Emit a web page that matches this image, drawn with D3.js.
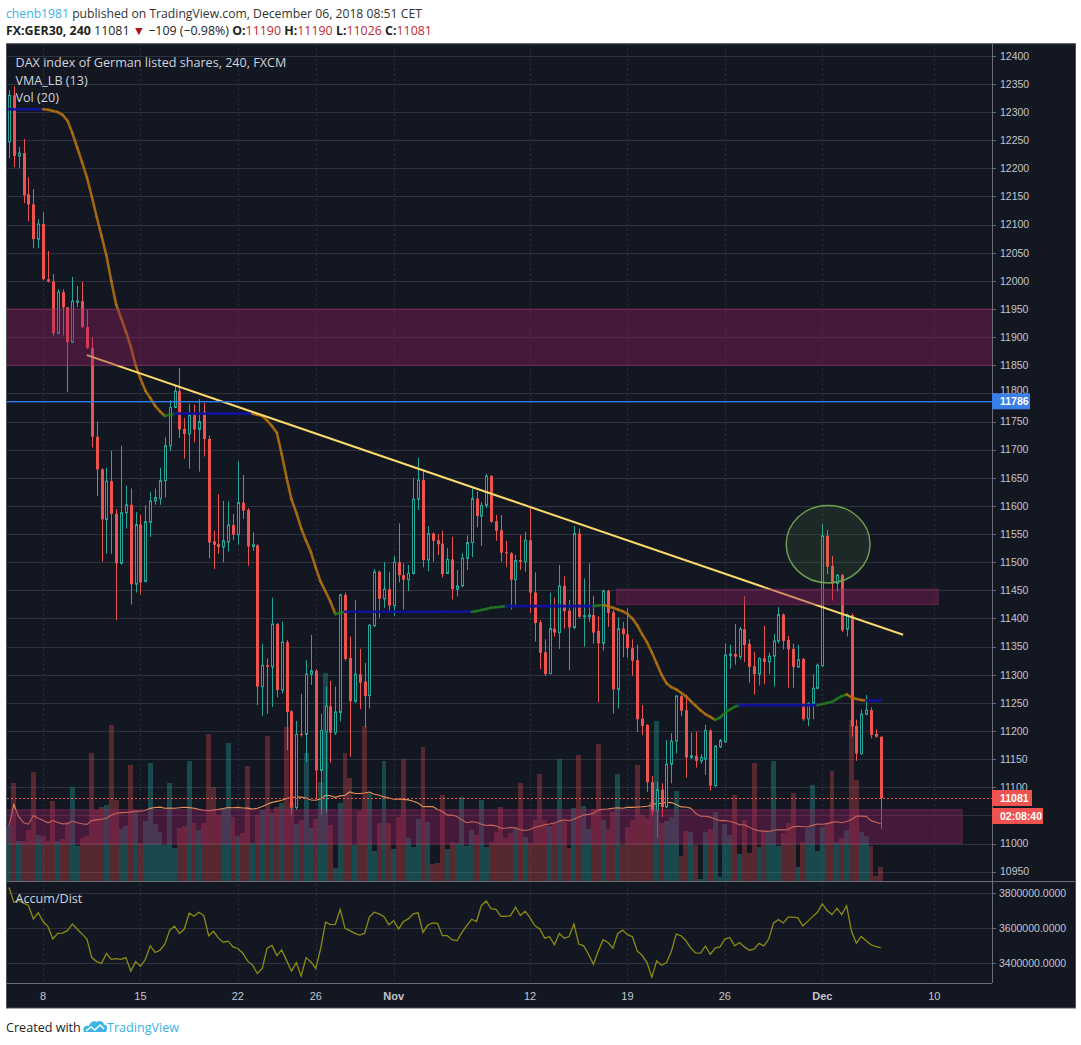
<!DOCTYPE html>
<html>
<head>
<meta charset="utf-8">
<script src="https://cdn.jsdelivr.net/npm/d3@7"></script>
<style>
  body { margin: 0; background: #fff; }
  svg { display: block; font-family: "Open Sans", "Liberation Sans", sans-serif; }
</style>
</head>
<body>
<svg id="chart" width="1081" height="1045"></svg>
<script>
// ---- data (4h bars, 5 Oct - 6 Dec 2018) ----
const openP = [12247,12330,12222,12227,12154,12136,12074,12101,12003,11999,
  11907,11980,11953,11891,11962,11964,11918,11881,11723,11665,
  11576,11644,11586,11498,11588,11602,11461,11567,11466,11571,
  11609,11613,11645,11707,11775,11804,11737,11728,11762,11736,
  11768,11719,11537,11532,11527,11536,11566,11549,11606,11593,
  11528,11530,11279,11317,11314,11390,11273,11358,11235,11064,
  11195,11194,11301,11307,11130,11199,11244,11197,11233,11442,
  11330,11253,11301,11288,11263,11387,11483,11435,11452,11423,
  11500,11477,11469,11480,11612,11646,11504,11551,11539,11533,
  11480,11505,11452,11458,11507,11535,11613,11582,11601,11653,
  11573,11557,11518,11516,11469,11504,11501,11539,11446,11393,
  11340,11302,11382,11375,11458,11414,11384,11551,11403,11403,
  11406,11378,11356,11449,11411,11274,11382,11372,11347,11326,
  11222,11211,11109,11058,11096,11065,11141,11182,11262,11237,
  11153,11156,11147,11150,11201,11103,11172,11181,11334,11337,
  11332,11381,11355,11315,11301,11329,11323,11333,11360,11407,
  11362,11346,11314,11328,11222,11249,11276,11316,11547,11493,
  11462,11477,11381,11406,11209,11160,11230,11237,11195,11190];
const highP = [12339,12346,12238,12252,12184,12163,12110,12122,12053,12012,
  11985,11985,11953,12007,11991,11998,11948,11900,11750,11667,
  11668,11698,11594,11707,11636,11631,11589,11584,11601,11625,
  11631,11668,11722,11788,11815,11845,11756,11782,11780,11790,
  11783,11725,11556,11621,11609,11608,11586,11679,11655,11596,
  11553,11532,11355,11329,11437,11392,11394,11362,11237,11218,
  11266,11326,11371,11310,11231,11279,11289,11279,11444,11446,
  11368,11433,11346,11321,11390,11488,11485,11500,11483,11511,
  11569,11498,11495,11650,11686,11664,11564,11553,11550,11556,
  11525,11545,11486,11516,11548,11631,11626,11607,11657,11655,
  11584,11584,11538,11518,11513,11548,11554,11596,11482,11397,
  11363,11446,11437,11495,11475,11433,11564,11560,11471,11498,
  11440,11404,11451,11451,11415,11402,11394,11418,11363,11353,
  11246,11212,11120,11110,11107,11184,11196,11264,11265,11264,
  11197,11199,11159,11211,11203,11175,11186,11356,11353,11390,
  11385,11440,11363,11341,11331,11387,11339,11372,11420,11409,
  11369,11355,11353,11330,11251,11301,11320,11568,11557,11511,
  11479,11479,11409,11409,11220,11238,11264,11242,11203,11190];
const lowP = [12218,12202,12201,12138,12106,12058,12058,12001,11997,11902,
  11905,11903,11802,11889,11953,11916,11879,11704,11618,11501,
  11515,11515,11397,11496,11560,11425,11446,11443,11464,11545,
  11602,11602,11615,11698,11774,11721,11684,11666,11713,11661,
  11688,11507,11488,11515,11500,11519,11539,11531,11577,11494,
  11520,11246,11227,11231,11243,11260,11267,11166,11051,11060,
  11190,11145,11282,11080,11051,11054,11144,11193,11217,11325,
  11154,11250,11239,11207,11240,11385,11401,11419,11412,11405,
  11464,11416,11449,11478,11593,11491,11484,11501,11513,11473,
  11479,11434,11439,11456,11486,11509,11562,11529,11596,11570,
  11538,11501,11492,11416,11420,11486,11483,11410,11359,11310,
  11298,11301,11368,11346,11382,11308,11381,11400,11350,11394,
  11355,11251,11343,11385,11231,11240,11331,11330,11298,11198,
  11193,11092,11050,11010,11047,11063,11107,11160,11227,11117,
  11150,11135,11142,11122,11094,11100,11170,11179,11311,11318,
  11327,11323,11286,11265,11281,11283,11301,11279,11356,11345,
  11277,11277,11312,11218,11209,11221,11274,11314,11479,11432,
  11448,11376,11368,11190,11147,11158,11228,11187,11188,11026];
const closeP = [12330,12222,12227,12152,12136,12074,12101,12003,11999,11907,
  11980,11953,11891,11964,11964,11918,11881,11723,11665,11576,
  11644,11586,11498,11588,11602,11461,11567,11464,11572,11609,
  11615,11645,11707,11775,11804,11736,11728,11762,11736,11750,
  11719,11535,11531,11527,11538,11566,11549,11606,11592,11528,
  11531,11279,11317,11314,11390,11273,11358,11234,11064,11194,
  11193,11301,11307,11130,11201,11244,11197,11234,11442,11328,
  11253,11301,11286,11262,11388,11483,11435,11452,11423,11500,
  11477,11469,11480,11612,11646,11504,11551,11538,11532,11479,
  11505,11452,11458,11507,11535,11613,11582,11601,11653,11572,
  11556,11517,11516,11469,11503,11501,11539,11446,11392,11339,
  11301,11382,11375,11458,11413,11384,11551,11403,11405,11406,
  11375,11356,11449,11410,11274,11382,11372,11347,11325,11221,
  11209,11109,11057,11096,11065,11141,11182,11262,11236,11153,
  11156,11147,11153,11201,11103,11173,11183,11335,11337,11332,
  11381,11353,11314,11301,11329,11323,11333,11360,11407,11360,
  11345,11314,11327,11221,11249,11276,11317,11547,11492,11462,
  11477,11379,11406,11208,11160,11230,11237,11193,11190,11081];
const volume = [5500,9800,4000,4000,5100,10900,4600,4500,4000,8000,
  4000,4200,5900,9400,3500,4300,4500,12800,7100,7400,
  7600,15600,8100,5200,5500,11600,7000,3800,6000,11800,
  5700,4900,3600,9800,3300,5300,5500,12000,5800,5100,
  5800,14700,9400,6600,7200,13800,6400,4500,4800,11500,
  3800,6600,7100,14500,6800,7400,7800,15400,7900,5700,
  6100,12800,5300,6200,9900,20800,5600,1300,7800,12800,
  10300,3600,7000,15500,8800,3000,5800,12000,5800,3200,
  6400,12200,4300,3400,6200,13400,5900,1700,1800,8600,
  3200,3900,3800,8400,3500,5100,4600,8100,3400,3900,
  4900,7400,4300,4800,5400,9800,4400,3800,6100,10700,
  6100,5500,5800,12200,6100,3300,7300,12600,7500,5200,
  7200,13700,6100,5200,6900,10700,3600,5400,6100,11600,
  6600,6300,7900,16000,5800,6000,6400,9000,2500,5000,
  4900,3600,200,4900,5200,6900,400,5700,4600,8600,
  2700,6100,2800,11800,3400,5000,5100,12000,3500,4800,
  5800,8800,1400,3900,5300,9600,3000,5400,5800,11000,
  3900,4300,5100,16100,10100,4900,4500,3500,500,1400];
const vmaLB = [12305,12305,12305,12305,12305,12305,12305,12305,12304,12302,
  12300,12295,12285,12263,12237,12211,12184,12150,12114,12080,
  12045,12000,11958,11934,11910,11883,11850,11826,11805,11792,
  11778,11768,11760,11762,11764,11764,11764,11764,11764,11764,
  11764,11764,11764,11764,11764,11764,11764,11764,11764,11764,
  11764,11762,11760,11752,11742,11730,11692,11650,11612,11588,
  11560,11538,11518,11490,11465,11448,11430,11408,11410,11412,
  11412,11412,11412,11412,11412,11412,11412,11412,11412,11412,
  11412,11412,11412,11412,11412,11412,11412,11412,11412,11412,
  11412,11412,11412,11412,11412,11412,11413,11415,11417,11419,
  11420,11421,11422,11422,11422,11422,11422,11422,11422,11422,
  11422,11422,11422,11422,11422,11422,11422,11422,11422,11422,
  11422,11423,11424,11422,11419,11416,11413,11408,11400,11388,
  11372,11358,11340,11320,11300,11285,11278,11274,11268,11262,
  11253,11245,11237,11230,11225,11220,11224,11232,11238,11243,
  11246,11246,11246,11246,11246,11246,11246,11246,11246,11246,
  11246,11246,11246,11246,11246,11246,11246,11248,11250,11252,
  11257,11262,11265,11260,11257,11255,11254,11254,11254,11254];
const accumDist = [3831000,3748000,3758000,3742000,3729000,3652000,3687000,3637000,3608000,3537000,
  3569000,3571000,3585000,3623000,3594000,3565000,3537000,3431000,3408000,3398000,
  3454000,3421000,3425000,3421000,3431000,3354000,3408000,3381000,3421000,3498000,
  3460000,3473000,3508000,3588000,3610000,3569000,3594000,3685000,3667000,3690000,
  3671000,3556000,3581000,3542000,3519000,3525000,3492000,3483000,3456000,3412000,
  3388000,3340000,3369000,3485000,3500000,3442000,3475000,3415000,3354000,3402000,
  3325000,3431000,3406000,3369000,3483000,3633000,3619000,3621000,3706000,3598000,
  3585000,3569000,3560000,3569000,3662000,3690000,3681000,3665000,3619000,3642000,
  3594000,3637000,3652000,3681000,3687000,3575000,3617000,3629000,3627000,3556000,
  3556000,3533000,3527000,3575000,3613000,3650000,3637000,3729000,3754000,3710000,
  3706000,3667000,3667000,3671000,3719000,3671000,3696000,3658000,3613000,3594000,
  3542000,3550000,3504000,3569000,3542000,3550000,3623000,3508000,3498000,3450000,
  3392000,3469000,3533000,3517000,3485000,3569000,3588000,3562000,3550000,3469000,
  3444000,3402000,3319000,3412000,3387000,3402000,3465000,3565000,3556000,3527000,
  3485000,3458000,3456000,3496000,3450000,3485000,3492000,3537000,3546000,3498000,
  3517000,3492000,3473000,3479000,3512000,3498000,3537000,3629000,3648000,3629000,
  3662000,3662000,3658000,3612000,3638000,3665000,3690000,3738000,3700000,3677000,
  3713000,3677000,3727000,3581000,3513000,3552000,3527000,3504000,3494000,3488000];

const dateTickBars = [8, 28, 48, 64, 80, 108, 128, 148, 168, 191];
const dateTickLabels = ["8", "15", "22", "26", "Nov", "12", "19", "26", "Dec", "10"];
const priceTicks = d3.range(10950, 12401, 50);
const adlTicks = [3400000, 3600000, 3800000];

// drawings on the chart (bar index / price)
const trendLine = [[17, 11868], [184.6, 11371]];
const zones = [
  { b0: -5, b1: 215, p0: 11850, p1: 11950 },
  { b0: 125.8, b1: 191.8, p0: 11425, p1: 11452 },
  { b0: -5, b1: 196.7, p0: 11000, p1: 11060 }
];
const ellipseMark = { bar: 169.2, price: 11532, dBar: 8.6, dPrice: 69 };
const hLinePrice = 11786;
const lastPrice = 11081;

// ---- layout ----
const L = 7, R = 992, T = 43.7, MB = 881, AB = 983, XB = 1008, RE = 1075;
const step = 4.87;
const bg = "#131722", upC = "#26a69a", dnC = "#ef5350";

const bars = openP.map((o, i) => ({
  i: i + 1, o, h: highP[i], l: lowP[i], c: closeP[i], v: volume[i], up: closeP[i] >= o
}));

const x = d3.scaleLinear().domain([1, 180]).range([9, 9 + 179 * step]);
const yP = d3.scaleLinear().domain([10950, 12400]).range([871.7, 55.8]);
const yV = d3.scaleLinear().domain([0, d3.max(volume)]).range([MB, MB - 208]);
const yA = d3.scaleLinear().domain([3400000, 3800000]).range([963, 893]);

const svg = d3.select("#chart");

// header
const h1 = svg.append("text").attr("x", 6).attr("y", 17.5).attr("font-size", 12.2).attr("fill", "#333");
h1.append("tspan").attr("fill", "#3bb3e4").text("chenb1981");
h1.append("tspan").text(" published on TradingView.com, December 06, 2018 08:51 CET");
const h2 = svg.append("text").attr("x", 6).attr("y", 35).attr("font-size", 12.4).attr("fill", "#222");
const red = "#c0282d";
[["FX:GER30, 240", "#222", 700], ["  11081 ", "#222", 400], ["▼", "#a8141a", 400], [" −109 (−0.98%) ", "#222", 400],
 ["O:", "#222", 700], ["11190", red, 400], [" H:", "#222", 700], ["11190", red, 400],
 [" L:", "#222", 700], ["11026", red, 400], [" C:", "#222", 700], ["11081", red, 400]]
  .forEach(([t, c, w]) => h2.append("tspan").attr("fill", c).attr("font-weight", w).text(t));

// chart background
svg.append("rect").attr("x", L).attr("y", T).attr("width", RE - L).attr("height", XB - T).attr("fill", bg);

svg.append("defs").html(
  `<clipPath id="mainClip"><rect x="${L}" y="${T}" width="${R - L}" height="${MB - T}"/></clipPath>` +
  `<clipPath id="adlClip"><rect x="${L}" y="${MB}" width="${R - L}" height="${AB - MB}"/></clipPath>`);

// grid
const grid = svg.append("g");
grid.selectAll("line.hp").data(priceTicks).join("line")
  .attr("x1", L).attr("x2", R).attr("y1", d => Math.round(yP(d)) + 0.5).attr("y2", d => Math.round(yP(d)) + 0.5)
  .attr("stroke", "#2e323e");
grid.selectAll("line.ha").data(adlTicks).join("line")
  .attr("x1", L).attr("x2", R).attr("y1", d => Math.round(yA(d)) + 0.5).attr("y2", d => Math.round(yA(d)) + 0.5)
  .attr("stroke", "#2e323e");
grid.selectAll("line.v").data(dateTickBars).join("line")
  .attr("x1", d => Math.round(x(d)) + 0.5).attr("x2", d => Math.round(x(d)) + 0.5)
  .attr("y1", T).attr("y2", AB).attr("stroke", "#2f3340").attr("stroke-dasharray", "2,3");

// main pane
const main = svg.append("g").attr("clip-path", "url(#mainClip)");

main.selectAll("rect.vol").data(bars).join("rect")
  .attr("x", d => Math.round(x(d.i - 0.5)))
  .attr("width", d => Math.round(x(d.i + 0.5)) - Math.round(x(d.i - 0.5)))
  .attr("y", d => yV(d.v)).attr("height", d => MB - yV(d.v))
  .attr("fill", d => d.up ? "rgba(38,166,154,0.35)" : "rgba(239,83,80,0.3)");

// Vol (20) moving average
const volMA = bars.map((d, k) => d3.mean(volume.slice(Math.max(0, k - 19), k + 1)));
main.append("path")
  .attr("d", d3.line().x((d, k) => x(k + 1)).y(d => yV(d))(volMA))
  .attr("fill", "none").attr("stroke", "#e8915a").attr("stroke-width", 1.1);

// candles
const cg = main.append("g");
cg.selectAll("line.wick").data(bars).join("line")
  .attr("x1", d => Math.round(x(d.i)) + 0.5).attr("x2", d => Math.round(x(d.i)) + 0.5)
  .attr("y1", d => yP(d.h)).attr("y2", d => yP(d.l))
  .attr("stroke", d => d.up ? upC : dnC);
cg.selectAll("rect.body").data(bars).join("rect")
  .attr("x", d => d.up ? Math.round(x(d.i)) - 0.5 : Math.round(x(d.i)) - 1)
  .attr("width", d => d.up ? 2 : 3)
  .attr("y", d => yP(Math.max(d.o, d.c)))
  .attr("height", d => Math.max(1, Math.abs(yP(d.o) - yP(d.c))))
  .attr("fill", d => d.up ? bg : dnC)
  .attr("stroke", d => d.up ? upC : "none");

// VMA_LB (13), coloured by slope
const vmaSeg = d3.range(vmaLB.length - 1).map(k => ({ k, a: vmaLB[k], b: vmaLB[k + 1] }));
main.selectAll("line.vma").data(vmaSeg).join("line")
  .attr("x1", d => x(d.k + 1)).attr("x2", d => x(d.k + 2))
  .attr("y1", d => yP(d.a)).attr("y2", d => yP(d.b))
  .attr("stroke", d => d.b > d.a ? "#1f7a1f" : d.b < d.a ? "#b0700e" : "#1212a0")
  .attr("stroke-width", 2.6).attr("stroke-linecap", "round").attr("stroke-opacity", 0.9);

// trend line
main.append("line")
  .attr("x1", x(trendLine[0][0])).attr("y1", yP(trendLine[0][1]))
  .attr("x2", x(trendLine[1][0])).attr("y2", yP(trendLine[1][1]))
  .attr("stroke", "#fbd86a").attr("stroke-width", 2);

// zones
main.selectAll("rect.zone").data(zones).join("rect")
  .attr("x", d => x(d.b0)).attr("width", d => x(d.b1) - x(d.b0))
  .attr("y", d => yP(d.p1)).attr("height", d => yP(d.p0) - yP(d.p1))
  .attr("fill", "rgba(150,30,95,0.38)").attr("stroke", "rgba(170,50,110,0.45)");

// highlight ellipse
main.append("ellipse")
  .attr("cx", x(ellipseMark.bar)).attr("cy", yP(ellipseMark.price))
  .attr("rx", x(ellipseMark.bar + ellipseMark.dBar) - x(ellipseMark.bar))
  .attr("ry", yP(ellipseMark.price - ellipseMark.dPrice) - yP(ellipseMark.price))
  .attr("fill", "rgba(110,170,70,0.12)").attr("stroke", "#6c9e4c").attr("stroke-width", 1.5);

// horizontal line + last price line
main.append("rect").attr("x", L).attr("width", R - L)
  .attr("y", Math.round(yP(hLinePrice))).attr("height", 1.4)
  .attr("fill", "#2f7df2");
main.append("line").attr("x1", L).attr("x2", R)
  .attr("y1", Math.round(yP(lastPrice)) + 0.5).attr("y2", Math.round(yP(lastPrice)) + 0.5)
  .attr("stroke", dnC).attr("stroke-dasharray", "2,2");

// Accum/Dist pane
svg.append("g").attr("clip-path", "url(#adlClip)").append("path")
  .attr("d", d3.line().x((d, k) => x(k + 1)).y(d => yA(d))(accumDist))
  .attr("fill", "none").attr("stroke", "#8c8c12").attr("stroke-width", 1.3);

// pane borders
const axc = "#6b6e79";
svg.append("line").attr("x1", R + 0.5).attr("x2", R + 0.5).attr("y1", T).attr("y2", AB).attr("stroke", axc);
svg.append("line").attr("x1", L).attr("x2", RE).attr("y1", MB + 0.5).attr("y2", MB + 0.5).attr("stroke", axc);
svg.append("line").attr("x1", L).attr("x2", R).attr("y1", AB + 0.5).attr("y2", AB + 0.5).attr("stroke", axc);
svg.append("rect").attr("x", L - 0.5).attr("y", T).attr("width", RE - L + 1).attr("height", XB - T)
  .attr("fill", "none").attr("stroke", "#50535e");

// legends
const leg = svg.append("g").attr("fill", "#d1d4dc").attr("font-size", 12.6);
leg.append("text").attr("x", 15.5).attr("y", 67).text("DAX index of German listed shares, 240, FXCM");
leg.append("text").attr("x", 15.5).attr("y", 84.5).text("VMA_LB (13)");
leg.append("text").attr("x", 15.5).attr("y", 102).text("Vol (20)");
leg.append("text").attr("x", 15.5).attr("y", 903).text("Accum/Dist");

// price tags on the axis (drawn over the tick labels they cover)
const tags = [
  { y: yP(hLinePrice), w: 38, fill: "#3a7fe6", txt: String(hLinePrice) },
  { y: yP(lastPrice), w: 40, fill: dnC, txt: String(lastPrice) },
  { y: yP(lastPrice) + 18, w: 51, fill: dnC, txt: "02:08:40" }
];
const hiddenTick = p => tags.some(t => Math.abs(yP(p) - t.y) < 6);

// price axis
const axFont = '"Liberation Sans", Arial, sans-serif';
const pa = svg.append("g").attr("font-family", axFont).attr("font-size", 10.5).attr("fill", "#c3c6cd");
pa.selectAll("line").data(priceTicks).join("line")
  .attr("x1", R).attr("x2", R + 4).attr("y1", d => Math.round(yP(d)) + 0.5).attr("y2", d => Math.round(yP(d)) + 0.5)
  .attr("stroke", axc);
pa.selectAll("text").data(priceTicks.filter(p => !hiddenTick(p) || p === 11800)).join("text")
  .attr("x", 1000).attr("y", d => d === 11800 ? yP(d) - 3 : yP(d)).attr("dy", "0.36em").text(d => d);
const aa = svg.append("g").attr("font-family", axFont).attr("font-size", 10.5).attr("fill", "#c3c6cd");
aa.selectAll("line").data(adlTicks).join("line")
  .attr("x1", R).attr("x2", R + 4).attr("y1", d => Math.round(yA(d)) + 0.5).attr("y2", d => Math.round(yA(d)) + 0.5)
  .attr("stroke", axc);
aa.selectAll("text").data(adlTicks).join("text")
  .attr("x", 999).attr("y", d => yA(d)).attr("dy", "0.36em").text(d => d3.format(".4f")(d));

tags.forEach(t => {
  svg.append("rect").attr("x", R).attr("y", t.y - 8).attr("width", t.w).attr("height", 16).attr("fill", t.fill);
  svg.append("text").attr("x", 1000).attr("y", t.y).attr("dy", "0.36em").attr("font-family", axFont)
    .attr("font-size", 10.5).attr("font-weight", 700).attr("fill", "#fff").text(t.txt);
});

// date axis
svg.append("g").attr("font-family", axFont).attr("font-size", 11).attr("fill", "#c3c6cd")
  .selectAll("text").data(dateTickBars).join("text")
  .attr("x", d => x(d)).attr("y", 1000).attr("text-anchor", "middle")
  .attr("font-weight", (d, k) => isNaN(+dateTickLabels[k]) ? 700 : 400)
  .text((d, k) => dateTickLabels[k]);

// footer
svg.append("text").attr("x", 6).attr("y", 1032).attr("font-size", 12.6).attr("fill", "#222").text("Created with");
const logo = svg.append("g").attr("transform", "translate(82,1019)");
logo.append("path").attr("d", "M2,13 C0,9 3,6 7,7 C8,3 12,1 15,3 C17,1 22,2 22,6 C25,5 26,9 24,13 Z")
  .attr("fill", "#3bb3e4");
logo.append("path").attr("d", "M4,12 L9,8 L13,11 L18,6 L22,10").attr("fill", "none")
  .attr("stroke", "#fff").attr("stroke-width", 1.5);
svg.append("text").attr("x", 107).attr("y", 1032).attr("font-size", 12.6).attr("fill", "#3bb3e4").text("TradingView");
</script>
</body>
</html>
